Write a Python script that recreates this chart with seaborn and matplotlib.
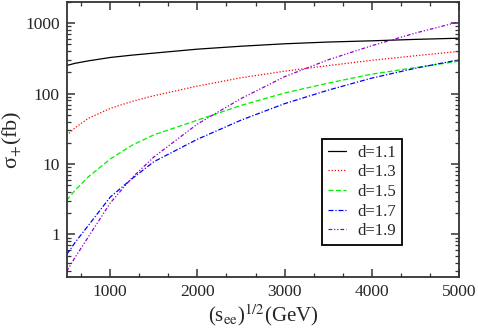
import numpy as np
import pandas as pd
import matplotlib
matplotlib.use("Agg")
import matplotlib.pyplot as plt
from matplotlib.ticker import MultipleLocator, LogLocator, NullFormatter, FixedLocator
import seaborn as sns

# sqrt(s_ee) in GeV
energy = [500, 600, 750, 1000, 1250, 1500, 2000, 2500, 3000, 3500, 4000, 4500, 5000]

# cross sections (fb)
sigma_11 = [251, 270, 292, 326, 352, 376, 428, 471, 510, 540, 562, 589, 612]
sigma_13 = [25.5, 33, 44.7, 61.7, 77.6, 93.3, 128, 168, 208, 250, 297, 345, 397]
sigma_15 = [3.05, 4.3, 6.6, 11.8, 18.5, 26, 42, 68, 102, 141, 189, 234, 289]
sigma_17 = [0.52, 0.78, 1.35, 3.4, 6.2, 10.8, 22.5, 42, 72, 112, 166, 229, 302]
sigma_19 = [0.30, 0.48, 0.93, 2.8, 6.4, 12.6, 37, 85, 174, 302, 479, 724, 1043]

labels = ["d=1.1", "d=1.3", "d=1.5", "d=1.7", "d=1.9"]
colors = ["black", "#ff0000", "#00ee00", "#0000ff", "#9400d3"]
styles = ["-", (0, (1, 1.5)), (0, (4, 2)), (0, (4, 1.5, 1, 1.5)), (0, (3, 1.5, 1, 1.5, 1, 1.5))]

sns.set_style("ticks")
plt.rcParams["font.family"] = ["Liberation Serif", "DejaVu Serif"]
plt.rcParams["mathtext.fontset"] = "stix"

fig = plt.figure(figsize=(4.78, 3.32), dpi=100)
ax = fig.add_axes([0.1395, 0.166, 0.8205, 0.828])

all_sigma = [sigma_11, sigma_13, sigma_15, sigma_17, sigma_19]
for vals, lab, col, ls in zip(all_sigma, labels, colors, styles):
    sns.lineplot(x=energy, y=vals, ax=ax, color=col, linestyle=ls,
                 linewidth=0.9, label=lab)

ax.set_yscale("log")
ax.set_xlim(500, 5000)
ax.set_ylim(0.25, 2000)

ax.xaxis.set_major_locator(FixedLocator([1000, 2000, 3000, 4000, 5000]))
ax.xaxis.set_minor_locator(MultipleLocator(1000 / 3))
ax.yaxis.set_major_locator(FixedLocator([1, 10, 100, 1000]))
ax.yaxis.set_minor_locator(LogLocator(base=10, subs=np.arange(2, 10)))
ax.yaxis.set_minor_formatter(NullFormatter())
ax.set_yticklabels(["1", "10", "100", "1000"])
ax.set_xticklabels(["1000", "2000", "3000", "4000", "5000"])

ax.tick_params(which="both", direction="in", top=True, right=True,
               labelsize=12.5, color="#333333")
ax.tick_params(which="major", length=6, width=1.1, pad=5)
ax.tick_params(which="minor", length=3, width=0.9)
for sp in ax.spines.values():
    sp.set_linewidth(1.3)
    sp.set_color("#333333")

ax.set_xlabel(r"(s$_{\mathrm{ee}}$)$^{1/2}$(GeV)", fontsize=15, labelpad=2)
ax.set_ylabel(r"σ$_{+}$(fb)", fontsize=16)
ax.yaxis.set_label_coords(-0.108, 0.5)

leg = ax.legend(loc="lower left", bbox_to_anchor=(0.651, 0.116), fontsize=12,
                frameon=True, fancybox=False, handlelength=1.1, handletextpad=0.7,
                borderpad=0.35, labelspacing=0.22, borderaxespad=0)
leg.get_frame().set_edgecolor("black")
leg.get_frame().set_linewidth(1.3)
leg.get_frame().set_alpha(1)

fig.savefig("out.png", dpi=100)
